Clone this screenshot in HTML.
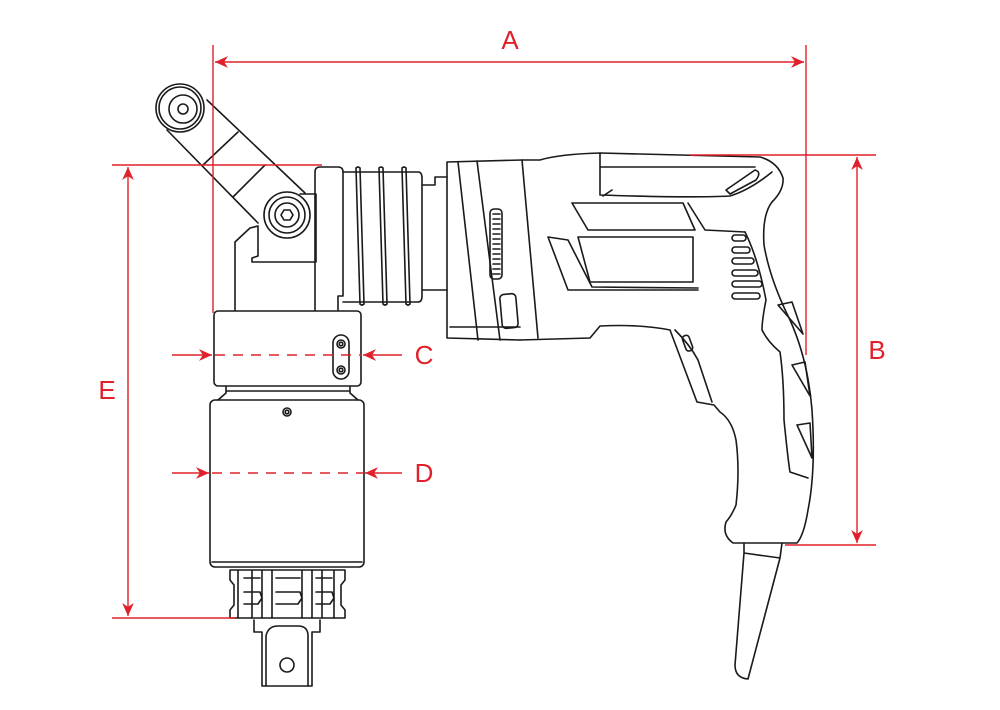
<!DOCTYPE html>
<html><head><style>html,body{margin:0;padding:0;background:#fff}svg{display:block}</style></head>
<body>
<svg width="1000" height="710" viewBox="0 0 1000 710" xmlns="http://www.w3.org/2000/svg">
<defs>
<marker id="ar" viewBox="0 0 10 10" refX="10" refY="5" markerWidth="15" markerHeight="13" orient="auto-start-reverse" markerUnits="userSpaceOnUse"><path d="M0,0.5 L10,5 L0,9.5 L3,5 z" fill="#e0202a"/></marker>
</defs>
<g fill="none" stroke="#1a1a1a" stroke-width="1.6" stroke-linejoin="round" stroke-linecap="round">
<!-- arm link -->
<path d="M167,130 L258,223 M305,193 L207,100"/>
<line x1="203" y1="165" x2="238" y2="132"/>
<line x1="233" y1="197" x2="265" y2="165"/>
<circle cx="180" cy="108" r="24" fill="#fff"/>
<circle cx="180" cy="108" r="21"/>
<circle cx="183" cy="109" r="14"/>
<circle cx="183" cy="109" r="5"/>
<!-- gearbox -->
<path d="M235,310 L235,242 L250,228 L258,226 L258,256 L252,258 L252,262 L316,262 L316,194 L300,194"/>
<path d="M315,310 L315,172 Q315,167 320,167 L338,167 Q343,167 343,172 L343,296 L338,296 L338,310"/>
<circle cx="287" cy="215" r="23" fill="#fff"/>
<circle cx="287" cy="215" r="18"/>
<circle cx="287" cy="215" r="12"/>
<polygon points="293,215 290,220 284,220 281,215 284,210 290,210"/>
<!-- collar ribs -->
<path d="M343,172 L418,172 Q422,172 422,178 L422,296 Q422,302 418,302 L343,302"/>
<path d="M356,168 Q358,166 360,168 L364,304 Q362,306 360,304 Z"/>
<path d="M379,168 Q381,166 383,168 L387,304 Q385,306 383,304 Z"/>
<path d="M402,168 Q404,166 406,168 L410,304 Q408,306 406,304 Z"/>
<path d="M422,185 L435,185 L435,177 L447,177 M422,290 L447,290"/>
<!-- upper collar -->
<rect x="214" y="311" width="147" height="75" rx="4"/>
<rect x="333" y="335" width="16" height="44" rx="8"/>
<circle cx="341" cy="344" r="4"/><circle cx="341" cy="344" r="1.8"/>
<circle cx="341" cy="370" r="4"/><circle cx="341" cy="370" r="1.8"/>
<path d="M226,386 L226,393 L218,400 M350,386 L350,393 L358,400 M226,391 L350,391"/>
<!-- lower cylinder -->
<rect x="210" y="400" width="154" height="167" rx="5"/>
<line x1="212" y1="562" x2="362" y2="562"/>
<circle cx="287" cy="412" r="4"/><circle cx="287" cy="412" r="1.8"/>
<!-- socket -->
<path d="M230,570 L345,570 L345,580 L341,585 L341,605 L345,610 L345,618 L230,618 L230,610 L234,605 L234,585 L230,580 Z"/>
<path d="M238,570 L238,618 M252,570 L252,618 M262,570 L262,618 M272,570 L272,618 M302,570 L302,618 M312,570 L312,618 M322,570 L322,618 M334,570 L334,618"/>
<path d="M244,578 L260,578 M244,592 L260,592 L262,598 L258,604 L244,604 M276,578 L300,578 M276,592 L300,592 L302,598 L298,604 L276,604 M316,578 L332,578 M316,592 L332,592 L334,598 L330,604 L316,604"/>
<!-- drive -->
<path d="M254,620 L254,632 L262,632 L262,686 L312,686 L312,632 L320,632 L320,620"/>
<path d="M266,686 L266,636 Q268,626 278,626 L298,626 Q308,626 308,636 L308,686"/>
<circle cx="287" cy="665" r="7"/>
<!-- drill nose -->
<path d="M447,162 L447,338 L520,340 M447,162 L522,160 M458,162 L478,340 M477,161 L500,340 M450,327 L520,327"/>
<rect x="490" y="209" width="12" height="70" rx="4"/>
<path d="M493,214 H500 M493,219 H500 M493,224 H500 M493,229 H500 M493,234 H500 M493,239 H500 M493,244 H500 M493,249 H500 M493,254 H500 M493,259 H500 M493,264 H500 M493,269 H500 M493,274 H500"/>
<rect x="501" y="294" width="16" height="34" rx="4" transform="rotate(-5 509 311)"/>
<!-- body outline -->
<path d="M522,160 L540,160 Q560,154 600,153 L760,157 Q778,162 783,178 Q784,190 772,202 Q762,215 764,245 Q770,280 790,320 Q808,360 812,410 Q816,470 808,510 Q804,535 797,543 L733,543 Q722,535 726,522 Q732,515 736,505 Q740,470 736,440 Q732,420 720,412 L714,405 L697,402 L670,330 Q640,324 600,326 L590,338 L520,340"/>
<path d="M522,160 L538,338"/>
<!-- top handle -->
<path d="M600,153 L600,195 Q690,198 730,196 Q750,190 772,172 M600,167 L755,167 M603,196 L612,190"/>
<path d="M726,190 L755,170 Q762,172 756,180 L730,194 Z"/>
<!-- windows -->
<path d="M572,203 L683,203 L695,230 L588,230 Z"/>
<path d="M578,237 L693,237 L693,282 L590,282 Z"/>
<path d="M548,237 L568,240 L592,287 L698,288 M548,237 L568,290 L698,290"/>
<path d="M688,203 L705,230 L745,232"/>
<!-- vents -->
<rect x="732" y="235" width="14" height="6" rx="3"/>
<rect x="732" y="247" width="18" height="6" rx="3"/>
<rect x="732" y="258" width="22" height="6" rx="3"/>
<rect x="732" y="270" width="26" height="6" rx="3"/>
<rect x="732" y="281" width="30" height="6" rx="3"/>
<rect x="732" y="293" width="28" height="6" rx="3"/>
<!-- grip inner -->
<path d="M745,232 Q758,258 766,300 Q762,320 762,330 Q768,342 780,352 Q784,380 784,420 Q788,460 790,472 L808,478"/>
<path d="M778,305 L792,302 L803,334 Z"/>
<path d="M792,365 L805,362 L810,396 Z"/>
<path d="M797,425 L810,423 L812,458 Z"/>
<!-- trigger -->
<path d="M675,330 Q690,345 698,360 L712,402"/>
<rect x="684" y="335" width="7" height="16" rx="3" transform="rotate(-20 688 343)"/>
<!-- cord -->
<path d="M744,543 L744,553 L780,558 L782,543 M744,553 L735,665 Q735,678 748,679 L780,558"/>
</g>
<!-- dimensions -->
<g stroke="#e0202a" stroke-width="1.4" fill="none">
<line x1="213" y1="45" x2="213" y2="313"/>
<line x1="806" y1="45" x2="806" y2="355"/>
<line x1="215" y1="62" x2="804" y2="62" marker-start="url(#ar)" marker-end="url(#ar)"/>
<line x1="690" y1="155" x2="876" y2="155"/>
<line x1="785" y1="545" x2="876" y2="545"/>
<line x1="857" y1="157" x2="857" y2="543" marker-start="url(#ar)" marker-end="url(#ar)"/>
<line x1="112" y1="165" x2="322" y2="165"/>
<line x1="112" y1="618" x2="235" y2="618"/>
<line x1="128" y1="167" x2="128" y2="616" marker-start="url(#ar)" marker-end="url(#ar)"/>
<line x1="172" y1="355" x2="212" y2="355" marker-end="url(#ar)"/>
<line x1="215" y1="355" x2="362" y2="355" stroke-dasharray="10,8"/>
<line x1="402" y1="355" x2="363" y2="355" marker-end="url(#ar)"/>
<line x1="172" y1="473" x2="209" y2="473" marker-end="url(#ar)"/>
<line x1="212" y1="473" x2="364" y2="473" stroke-dasharray="10,8"/>
<line x1="402" y1="473" x2="365" y2="473" marker-end="url(#ar)"/>
</g>
<g fill="#e0202a" font-family="Liberation Sans, sans-serif" font-size="26" text-anchor="middle">
<text x="510" y="49">A</text>
<text x="877" y="359">B</text>
<text x="424" y="364">C</text>
<text x="424" y="482">D</text>
<text x="107" y="399">E</text>
</g>
</svg>
</body></html>
